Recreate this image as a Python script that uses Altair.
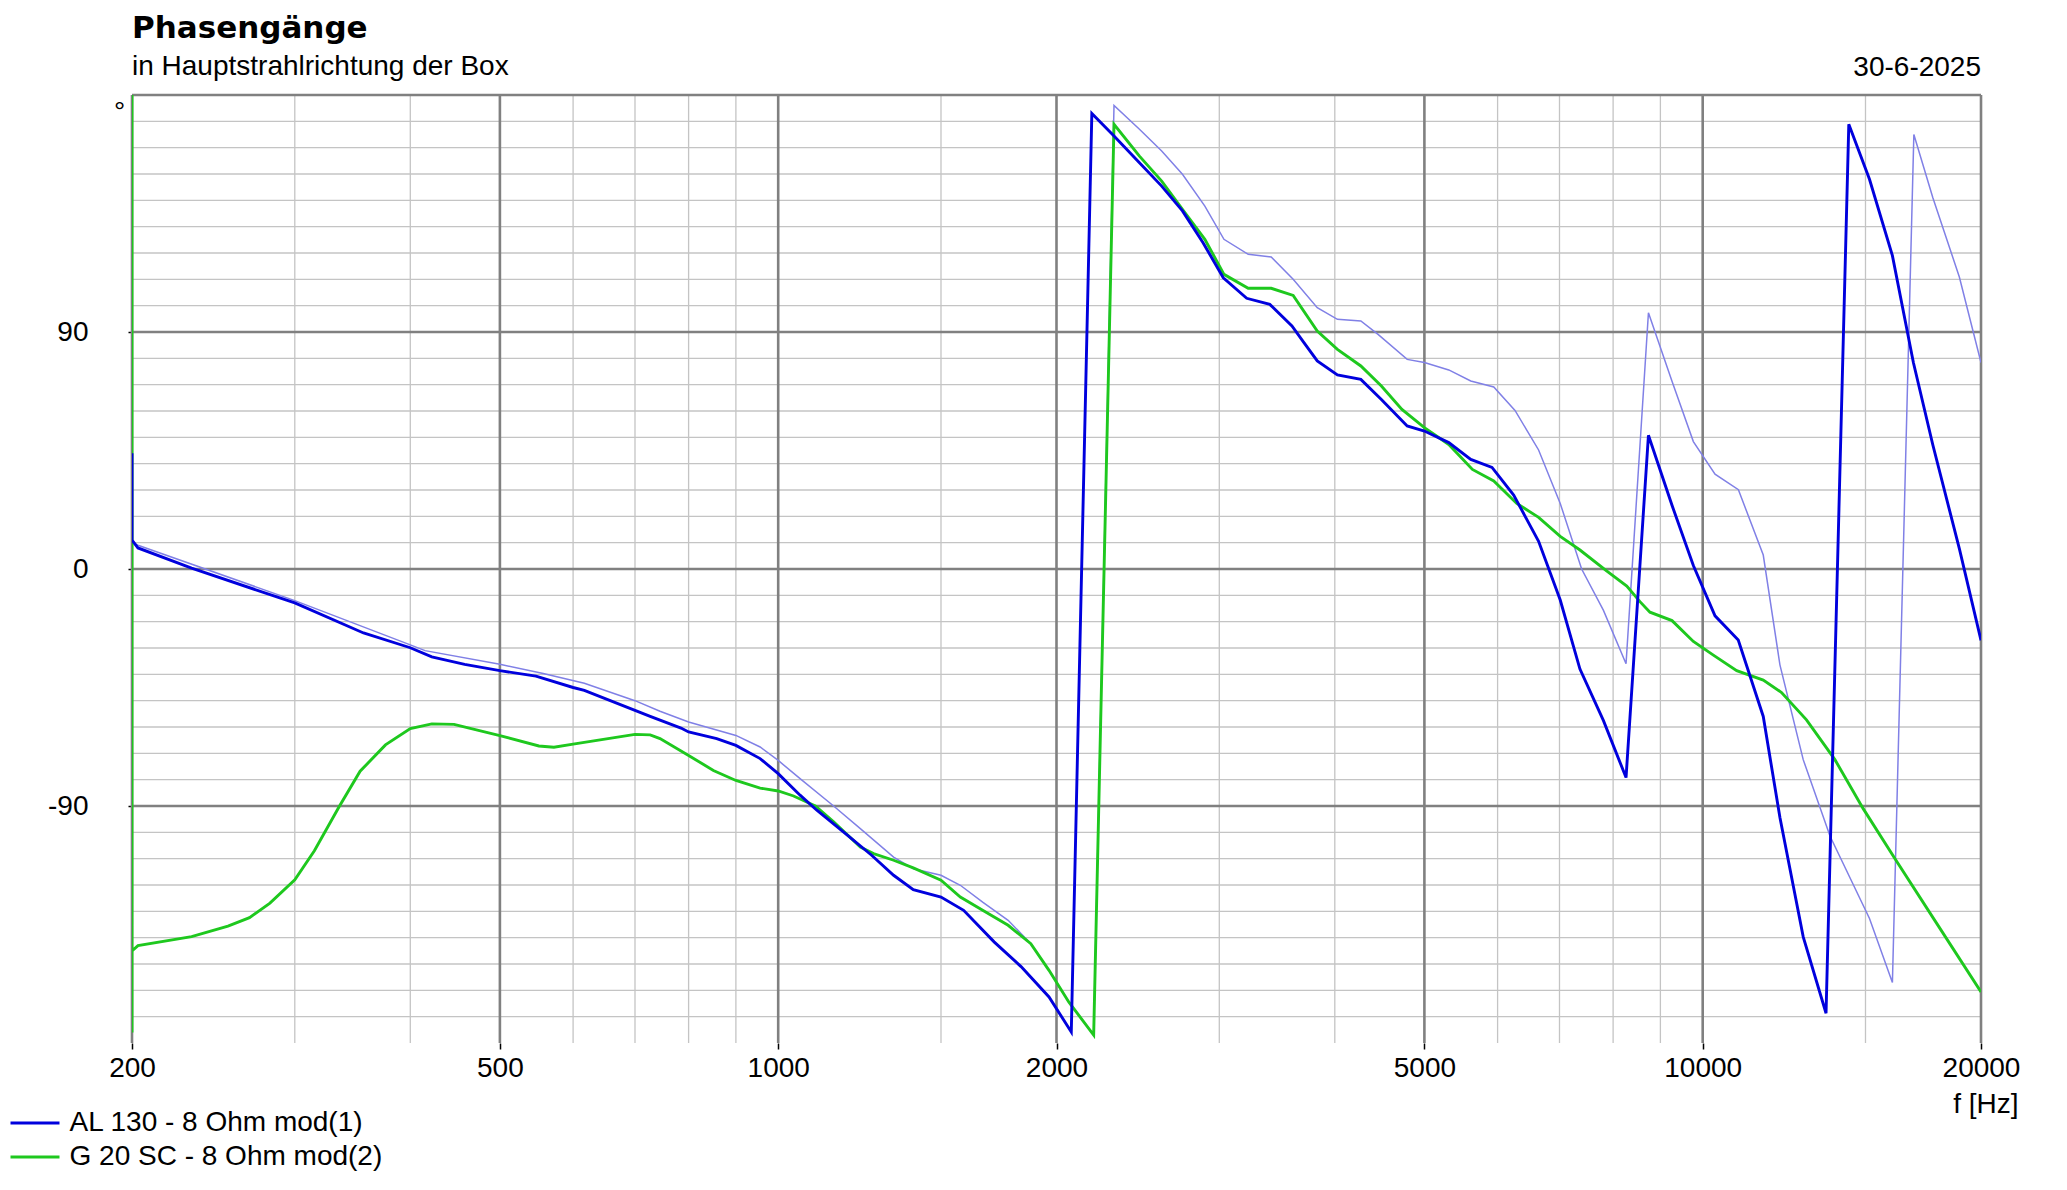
import altair as alt
import pandas as pd

# ---------------- data ----------------
series_names = ["AL 130 - 8 Ohm mod(1)", "G 20 SC - 8 Ohm mod(2)"]
series_colors = ["#0000dd", "#1ec81e"]
sum_color = "#8080e6"

al_freq = [200, 200, 203, 232, 300, 356, 400, 422, 458, 500, 547, 600, 617, 700, 727,
           785, 800, 858, 900, 956, 1000, 1056, 1101, 1187, 1262, 1333, 1400, 1500, 1587,
           1712, 1831, 1963, 2075, 2184, 2308, 2459, 2599, 2737, 2881, 3030, 3212, 3402,
           3595, 3704, 3829, 4026, 4268, 4492, 4790, 5000, 5313, 5612, 5917, 6245, 6645,
           7013, 7366, 7810, 8262, 8736, 9264, 9770, 10312, 10926, 11628, 12121, 12845,
           13596, 14389, 15150, 16040, 16900, 17740, 18950, 20000]
al_phase = [44, 11, 8, 0.3, -12.9, -24.3, -29.9, -33.4, -36.2, -38.6, -40.7, -45, -46.1,
            -53.7, -56, -60.4, -61.9, -64.4, -67, -72, -77.7, -85.9, -91.6, -101, -108.7,
            -116.3, -121.8, -124.6, -129.6, -141.6, -151, -162.5, -175.8, 173, 164.4,
            154.3, 145.4, 136, 123.9, 110.6, 102.8, 100.5, 92.3, 86, 79, 73.7, 72, 64.4,
            54.3, 52.4, 48, 41.6, 38.6, 28.1, 10.5, -11.8, -38, -57.6, -79.2, 50.8, 24.2,
            1.3, -17.8, -27, -56, -94.4, -139.7, -168.7, 168.9, 148, 119, 78.4, 47.1, 7.7,
            -27.1]

g20_freq = [200, 200, 200, 203, 232, 254, 268, 282, 300, 315, 335, 353, 376, 400, 422,
            446, 500, 551, 572, 600, 700, 727, 745, 800, 851, 900, 956, 1000, 1039, 1097,
            1148, 1227, 1268, 1333, 1400, 1500, 1574, 1664, 1773, 1876, 1963, 2062, 2194,
            2308, 2459, 2599, 2737, 2894, 3035, 3224, 3414, 3606, 3829, 4026, 4268, 4492,
            4728, 5000, 5313, 5635, 5943, 6293, 6645, 7013, 7366, 7871, 8277, 8553, 8769,
            9264, 9770, 10269, 10884, 11628, 12170, 12950, 13900, 14914, 16189, 17860,
            20000]
g20_phase = [180, -176, -145, -143, -139.6, -135.6, -132.4, -126.9, -118, -107, -90.3,
             -76.8, -66.8, -60.6, -58.8, -59, -63.3, -67.2, -67.7, -66.5, -62.8, -63,
             -64.4, -70.8, -76.5, -80.3, -83.2, -84.3, -86.2, -90, -96, -105.6, -108.1,
             -110.6, -113.5, -118.2, -124.6, -129.6, -135.3, -142.3, -152.4, -164.4, -177,
             168.9, 156.8, 147.3, 136.6, 125.2, 111.9, 106.6, 106.6, 103.9, 90.4, 83.4,
             77.1, 69.5, 60.6, 53.7, 47.3, 37.8, 33.4, 24.9, 19.6, 12.4, 7.2, -0.7, -6.5,
             -12.4, -16.4, -19.6, -27.5, -32.7, -38.6, -42.2, -46.9, -57.3, -72.4, -91,
             -110.7, -133.9, -160.6]

sum_freq = [200, 203, 300, 400, 415, 500, 557, 617, 700, 745, 800, 900, 956, 1000, 1056,
            1148, 1227, 1333, 1400, 1500, 1574, 1664, 1773, 1876, 1963, 2062, 2194, 2308,
            2459, 2599, 2737, 2894, 3035, 3224, 3414, 3606, 3829, 4026, 4268, 4455, 4790,
            5000, 5313, 5612, 5943, 6266, 6645, 7013, 7397, 7810, 8262, 8736, 9264, 9770,
            10312, 10930, 11628, 12121, 12845, 13730, 15150, 16040, 16920, 17740, 18950,
            20000]
sum_phase = [10, 9, -12, -28.8, -31, -36.2, -39.7, -43.4, -50, -54, -58.1, -63.2, -67.6,
             -72.7, -79.6, -90, -98.6, -109.4, -113.8, -116.3, -120.1, -126.5, -133.4,
             -142.3, -152.4, -164.4, -177, 176, 167, 158.7, 149.9, 137.8, 125.2, 119.5,
             118.5, 110, 99.2, 94.8, 94.2, 89.1, 79.6, 78.4, 75.6, 71.4, 69.1, 60.2, 45.2,
             24.9, 0, -15.7, -36, 97.3, 71.3, 48.4, 36, 30.1, 5.3, -36.4, -72.4, -101.4,
             -132.7, -157, 165, 141, 110.9, 78.4]

x_labels = [200, 500, 1000, 2000, 5000, 10000, 20000]
major_x = [200, 500, 1000, 2000, 5000, 10000, 20000]
minor_x = [300, 400, 600, 700, 800, 900, 1500, 3000, 4000, 6000, 7000, 8000, 9000, 15000]
y_labels = [-90, 0, 90]
major_y = [-90, 0, 90, 180]
minor_y = [v for v in range(-170, 180, 10) if v not in (-90, 0, 90)]

title_text = "Phasengänge"
subtitle_text = "in Hauptstrahlrichtung der Box"
date_text = "30-6-2025"

# ---------------- tables ----------------
def series_df(freq, phase, name):
    return pd.DataFrame({"f": freq, "p": phase, "s": name, "i": range(len(freq))})

al_df = series_df(al_freq, al_phase, series_names[0])
g20_df = series_df(g20_freq, g20_phase, series_names[1])
sum_df = series_df(sum_freq, sum_phase, "sum")

FONT = "Liberation Sans"
W, H = 1849, 948

xs = alt.Scale(type="log", domain=[200, 20000], nice=False)
ys = alt.Scale(domain=[-180, 180], nice=False)
cs = alt.Scale(domain=series_names, range=series_colors)

x_axis = alt.Axis(
    values=x_labels, format="d", title="f [Hz]", grid=False, domain=False,
    ticks=True, tickSize=6, tickColor="#000000", tickWidth=1.5,
    labelFontSize=28, labelFont=FONT, labelColor="black", labelPadding=5,
    labelFlush=False, labelOverlap=False,
    titleX=1886, titleY=69, titleAlign="right", titleBaseline="alphabetic",
    titleFontWeight="normal", titleFontSize=28, titleFont=FONT, titleColor="black",
)
y_axis = alt.Axis(
    values=y_labels, labelExpr="'' + datum.value", title="°", grid=False, domain=False,
    ticks=True, tickSize=4, tickColor="#000000", tickWidth=1.5,
    labelFontSize=28, labelFont=FONT, labelColor="black", labelPadding=40,
    titleAngle=0, titleX=-13, titleY=25, titleAlign="center", titleBaseline="alphabetic",
    titleFontWeight="normal", titleFontSize=28, titleFont=FONT, titleColor="black",
)

X = alt.X("f:Q", scale=xs, axis=x_axis)
Y = alt.Y("p:Q", scale=ys, axis=y_axis)

# short horizontal stroke drawn as a custom symbol (length 2.5x the symbol diameter)
legend = alt.Legend(
    title=None, orient="none", legendX=-111, legendY=1014,
    symbolType="M-2.5,0H2.5", symbolStrokeWidth=3, symbolSize=384,
    labelFontSize=28, labelFont=FONT, labelColor="black", labelOffset=20.5,
    rowPadding=6, padding=0, labelLimit=0,
)

minor_x_rules = alt.Chart(pd.DataFrame({"f": minor_x})).mark_rule(
    color="#c4c4c4", strokeWidth=1.3).encode(x=X)
minor_y_rules = alt.Chart(pd.DataFrame({"p": minor_y})).mark_rule(
    color="#c4c4c4", strokeWidth=1.3).encode(y=Y)
major_x_rules = alt.Chart(pd.DataFrame({"f": major_x})).mark_rule(
    color="#808080", strokeWidth=2.6).encode(x=X)
major_y_rules = alt.Chart(pd.DataFrame({"p": major_y})).mark_rule(
    color="#808080", strokeWidth=2.6).encode(y=Y)

sum_line = alt.Chart(sum_df).mark_line(color=sum_color, strokeWidth=1.5, clip=True).encode(
    x=X, y=Y, order=alt.Order("i:Q"),
)
g20_line = alt.Chart(g20_df).mark_line(strokeWidth=2.9, clip=True).encode(
    x=X, y=Y, color=alt.Color("s:N", scale=cs, legend=legend), order=alt.Order("i:Q"),
)
al_line = alt.Chart(al_df).mark_line(strokeWidth=2.9, clip=True).encode(
    x=X, y=Y, color=alt.Color("s:N", scale=cs, legend=legend), order=alt.Order("i:Q"),
)

date_mark = alt.Chart(pd.DataFrame({"f": [20000], "p": [180], "t": [date_text]})).mark_text(
    align="right", baseline="alphabetic", dy=-19, fontSize=28, font=FONT, color="black"
).encode(x=X, y=Y, text="t:N")

chart = alt.layer(
    minor_x_rules, minor_y_rules, major_x_rules, major_y_rules,
    sum_line, g20_line, al_line, date_mark,
).properties(
    width=W, height=H,
    title=alt.TitleParams(
        text=title_text, subtitle=subtitle_text, anchor="start", frame="group",
        font="DejaVu Sans", fontSize=31, fontWeight="bold", color="black",
        subtitleFont=FONT, subtitleFontSize=28, subtitleColor="black",
        subtitlePadding=8, offset=-28,
    ),
    padding={"left": 124, "top": 87, "right": 70, "bottom": 140},
    autosize=alt.AutoSizeParams(type="none"),
    background="white",
).configure_view(stroke=None)

chart.save("out.html", embed_options={"renderer": "svg", "actions": False})
